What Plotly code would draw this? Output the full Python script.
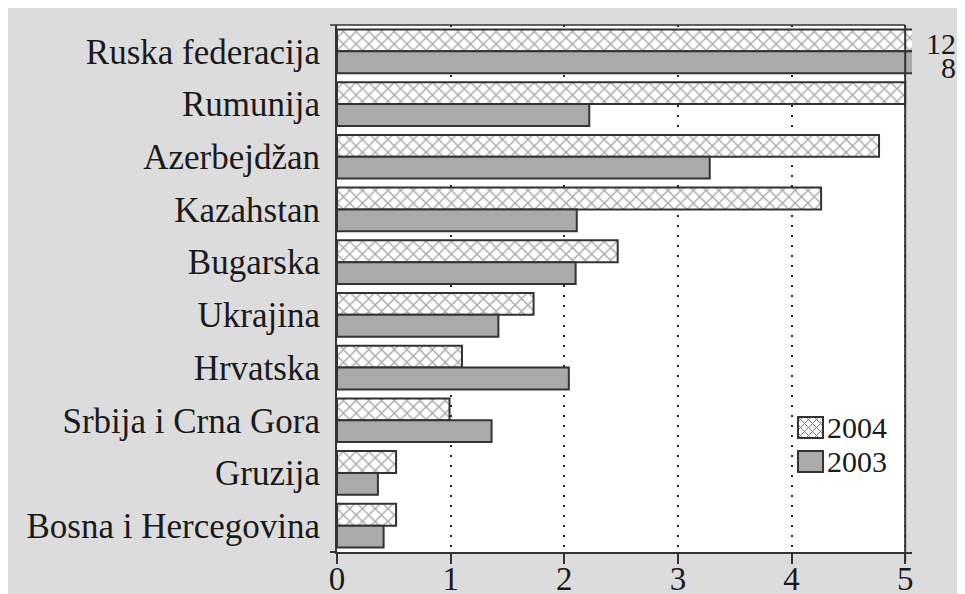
import plotly.graph_objects as go

countries = ["Ruska federacija", "Rumunija", "Azerbejdžan", "Kazahstan", "Bugarska",
             "Ukrajina", "Hrvatska", "Srbija i Crna Gora", "Gruzija", "Bosna i Hercegovina"]
v2004 = [12, 5.0, 4.77, 4.26, 2.47, 1.73, 1.10, 0.99, 0.52, 0.52]
v2003 = [8, 2.22, 3.28, 2.11, 2.10, 1.42, 2.04, 1.36, 0.36, 0.41]
series_names = ["2004", "2003"]
xticks = [0, 1, 2, 3, 4, 5]

# page body margin of 8px gives the white frame; figure fills the rest
OFF = 8
W, H = 965 - OFF, 594 - OFF
ML, MR, MT, MB = 337 - OFF, 53, 25 - OFF, 42
XMAX = 5.06
FONT = "Liberation Serif"
TXT = "#1a1a1a"
EDGE = "#333333"
GRAYBAR = "#aaaaaa"
HATCH = "#555555"
BG = "#dcdcdc"

fig = go.Figure()
fig.add_trace(go.Bar(
    y=countries, x=v2004, name=series_names[0], orientation="h",
    marker=dict(color="white", line=dict(color=EDGE, width=2),
                pattern=dict(shape="x", fgcolor=HATCH, bgcolor="white", size=9, solidity=0.3)),
    cliponaxis=True, showlegend=False,
))
fig.add_trace(go.Bar(
    y=countries, x=v2003, name=series_names[1], orientation="h",
    marker=dict(color=GRAYBAR, line=dict(color=EDGE, width=2)),
    cliponaxis=True, showlegend=False,
))

pw = W - ML - MR
ph = H - MT - MB
# convert reference-screenshot pixel coords to paper coords
def fx(p):
    return (p - OFF - ML) / pw
def fy(p):
    return 1 - (p - OFF - MT) / ph

shapes = [
    dict(type="rect", xref="x", yref="paper", layer="below",
         x0=0, x1=xticks[-1], y0=0, y1=1, fillcolor="white", line=dict(width=0)),
    dict(type="line", xref="x", yref="paper", x0=xticks[-1], x1=xticks[-1],
         y0=fy(562), y1=1, line=dict(color=EDGE, width=2)),
    dict(type="line", xref="paper", yref="paper", x0=fx(330), x1=fx(905),
         y0=1, y1=1, line=dict(color=EDGE, width=1.5)),
    dict(type="line", xref="paper", yref="paper", x0=fx(330), x1=0,
         y0=0, y1=0, line=dict(color=EDGE, width=2)),
]

# manual legend (boxes + text)
bx0, bx1 = 798, 823
rows = [(417, 438), (451, 472)]
y0p, y1p = rows[0]
shapes.append(dict(type="rect", xref="paper", yref="paper",
                   x0=fx(bx0), x1=fx(bx1), y0=fy(y1p), y1=fy(y0p),
                   fillcolor="white", line=dict(width=0)))
segs = []
step = 8
for k in range(-4, 6):
    a = bx0 + k * step
    for sgn in (1, -1):
        pts = []
        for t in range(0, 201):
            xx = a + (y1p - y0p) * t / 200.0
            yy = (y0p + (y1p - y0p) * t / 200.0) if sgn == 1 else (y1p - (y1p - y0p) * t / 200.0)
            if bx0 <= xx <= bx1:
                pts.append((xx, yy))
        if len(pts) > 1:
            segs.append("M{:.5f},{:.5f}L{:.5f},{:.5f}".format(fx(pts[0][0]), fy(pts[0][1]),
                                                            fx(pts[-1][0]), fy(pts[-1][1])))
shapes.append(dict(type="path", xref="paper", yref="paper", path="".join(segs),
                   line=dict(color="#777777", width=1)))
shapes.append(dict(type="rect", xref="paper", yref="paper",
                   x0=fx(bx0), x1=fx(bx1), y0=fy(y1p), y1=fy(y0p),
                   line=dict(color=EDGE, width=2)))
y0p, y1p = rows[1]
shapes.append(dict(type="rect", xref="paper", yref="paper",
                   x0=fx(bx0), x1=fx(bx1), y0=fy(y1p), y1=fy(y0p),
                   fillcolor=GRAYBAR, line=dict(color=EDGE, width=2)))

annotations = [
    dict(xref="paper", yref="paper", x=fx(958), y=fy(43),
         text=str(v2004[0]), showarrow=False, xanchor="right", yanchor="middle",
         font=dict(family=FONT, size=30, color=TXT)),
    dict(xref="paper", yref="paper", x=fx(958), y=fy(67),
         text=str(v2003[0]), showarrow=False, xanchor="right", yanchor="middle",
         font=dict(family=FONT, size=30, color=TXT)),
]
for name, (a, b) in zip(series_names, rows):
    annotations.append(dict(xref="paper", yref="paper", x=fx(825), y=fy((a + b) / 2),
                            text=name, showarrow=False, xanchor="left", yanchor="middle",
                            font=dict(family=FONT, size=30, color=TXT)))

fig.update_layout(
    width=W, height=H,
    margin=dict(l=ML, r=MR, t=MT, b=MB, pad=0, autoexpand=False),
    paper_bgcolor=BG, plot_bgcolor=BG,
    barmode="group", bargap=0.17, bargroupgap=0.0,
    font=dict(family=FONT, size=34, color=TXT),
    shapes=shapes, annotations=annotations,
    showlegend=False,
)
fig.update_xaxes(
    range=[0, XMAX], tickvals=xticks, ticktext=[str(t) for t in xticks],
    showgrid=True, gridcolor="#222222", gridwidth=2, griddash="2px,8px",
    zeroline=False, showline=True, linecolor=EDGE, linewidth=2,
    ticks="outside", ticklen=10, tickwidth=2, tickcolor=EDGE,
    tickfont=dict(family=FONT, size=33, color=TXT), automargin=False,
    ticklabelstandoff=-14,
)
fig.update_yaxes(
    type="category", categoryorder="array", categoryarray=countries,
    range=[len(countries) - 0.5, -0.5], autorange=False,
    showgrid=False, zeroline=False, showline=True, linecolor=EDGE, linewidth=2,
    ticks="", tickfont=dict(family=FONT, size=35, color=TXT), ticklabelstandoff=8,
    automargin=False,
)

fig.write_html("out.html")
